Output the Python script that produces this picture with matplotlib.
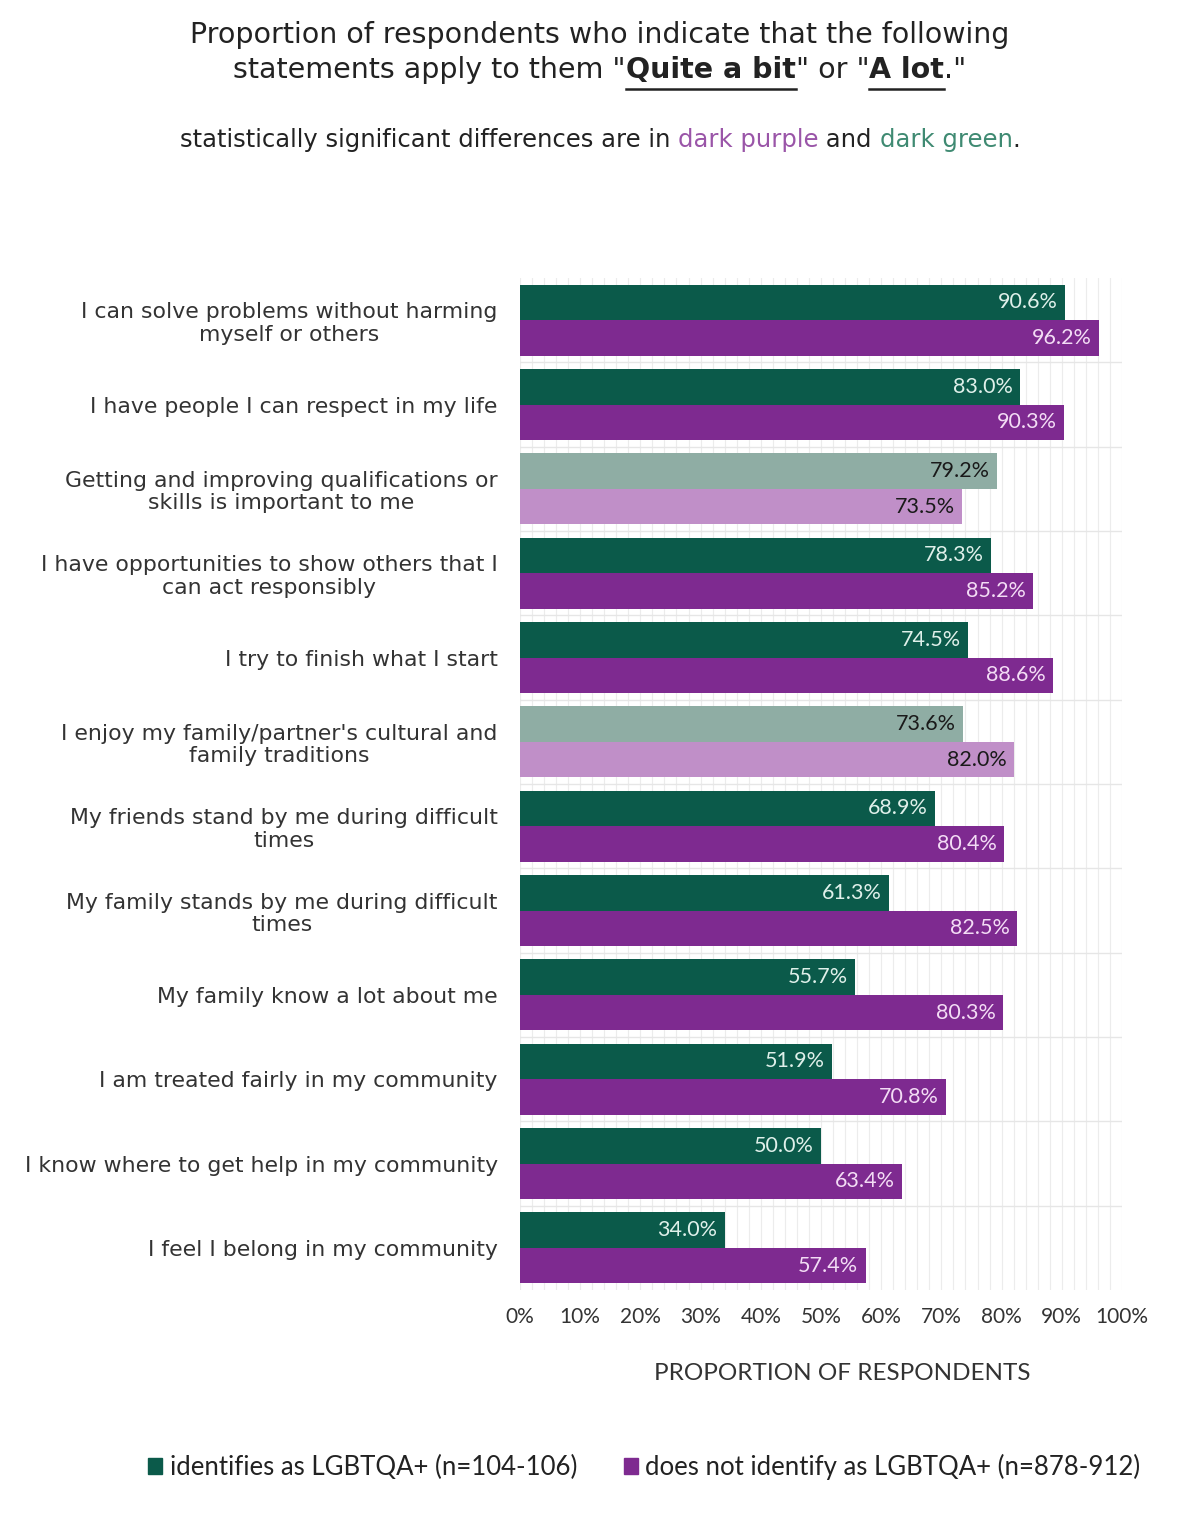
import numpy as np
import matplotlib.pyplot as plt
from matplotlib.patches import Patch

plt.rcParams['font.family'] = ['Lato', 'DejaVu Sans']

statements = [
    "I can solve problems without harming\nmyself or others",
    "I have people I can respect in my life",
    "Getting and improving qualifications or\nskills is important to me",
    "I have opportunities to show others that I\ncan act responsibly",
    "I try to finish what I start",
    "I enjoy my family/partner's cultural and\nfamily traditions",
    "My friends stand by me during difficult\ntimes",
    "My family stands by me during difficult\ntimes",
    "My family know a lot about me",
    "I am treated fairly in my community",
    "I know where to get help in my community",
    "I feel I belong in my community",
]
lgbtqa = [90.6, 83.0, 79.2, 78.3, 74.5, 73.6, 68.9, 61.3, 55.7, 51.9, 50.0, 34.0]
not_lgbtqa = [96.2, 90.3, 73.5, 85.2, 88.6, 82.0, 80.4, 82.5, 80.3, 70.8, 63.4, 57.4]
significant = [True, True, False, True, True, False, True, True, True, True, True, True]

dark_green, light_green = '#0b5a4a', '#8fada4'
dark_purple, light_purple = '#7e2a90', '#c08fc8'
wide = ['DejaVu Sans']

fig = plt.figure(figsize=(12, 15.2), dpi=100)
ax = fig.add_axes([0.4333, 0.1513, 0.5017, 0.6658])

n = len(statements)
y = np.arange(n)
h = 0.42

for i in range(n):
    sig = significant[i]
    gc = dark_green if sig else light_green
    pc = dark_purple if sig else light_purple
    tc_g = '#dff0ea' if sig else '#1a1a1a'
    tc_p = '#f3dcf5' if sig else '#1a1a1a'
    ax.barh(y[i] - h / 2, lgbtqa[i], height=h, color=gc, zorder=3)
    ax.barh(y[i] + h / 2, not_lgbtqa[i], height=h, color=pc, zorder=3)
    ax.text(lgbtqa[i] - 1.2, y[i] - h / 2, f"{lgbtqa[i]:.1f}%", ha='right', va='center',
            color=tc_g, fontsize=15.5, zorder=4)
    ax.text(not_lgbtqa[i] - 1.2, y[i] + h / 2, f"{not_lgbtqa[i]:.1f}%", ha='right', va='center',
            color=tc_p, fontsize=15.5, zorder=4)

ax.set_xlim(0, 100)
ax.set_ylim(n - 0.5, -0.5)
ax.set_xticks(np.arange(0, 101, 10))
ax.set_xticklabels([f"{v}%" for v in range(0, 101, 10)], fontsize=15, color='#333333')
ax.set_xticks(np.arange(0, 101, 2), minor=True)
ax.set_yticks(y)
ax.set_yticklabels(statements, fontsize=15.8, color='#333333', linespacing=1.15, family=wide)
for lbl in ax.get_yticklabels():
    lbl.set_multialignment('center')
ax.set_yticks(np.arange(0.5, n - 0.5, 1), minor=True)
ax.tick_params(axis='both', which='both', length=0)
ax.tick_params(axis='y', pad=16)
ax.tick_params(axis='x', pad=12)
ax.grid(axis='x', which='both', color='#ececec', linewidth=0.8, zorder=0)
ax.grid(axis='y', which='minor', color='#e6e6e6', linewidth=1.0, zorder=0)
for s in ax.spines.values():
    s.set_visible(False)
ax.set_xlabel("PROPORTION OF RESPONDENTS", fontsize=17.5, color='#333333')
ax.xaxis.set_label_coords(0.535, -0.072)

renderer = fig.canvas.get_renderer()


def centred_line(pieces, ypos, size):
    # lay out text pieces side by side, centred as one line
    items = []
    total = 0
    for txt, colour, weight, underline in pieces:
        t = fig.text(0, ypos, txt, ha='left', va='center', fontsize=size, color=colour,
                     fontweight=weight, family=wide)
        w = t.get_window_extent(renderer).width
        items.append((t, w, underline))
        total += w
    x0 = (fig.bbox.width - total) / 2
    for t, w, underline in items:
        t.set_x(x0 / fig.bbox.width)
        if underline:
            yy = ypos - 0.0125
            fig.add_artist(plt.Line2D([x0 / fig.bbox.width, (x0 + w) / fig.bbox.width], [yy, yy],
                                      color='#222222', linewidth=1.8))
        x0 += w


ink = '#222222'
centred_line([("Proportion of respondents who indicate that the following", ink, 'normal', False)],
             0.977, 20.5)
centred_line([('statements apply to them "', ink, 'normal', False), ('Quite a bit', ink, 'bold', True),
              ('" or "', ink, 'normal', False), ('A lot', ink, 'bold', True), ('."', ink, 'normal', False)],
             0.954, 20.5)
centred_line([('statistically significant differences are in ', ink, 'normal', False),
              ('dark purple', '#9a55a8', 'normal', False), (' and ', ink, 'normal', False),
              ('dark green', '#3f8a72', 'normal', False), ('.', ink, 'normal', False)],
             0.908, 17.5)

handles = [Patch(color=dark_green, label='identifies as LGBTQA+ (n=104-106)'),
           Patch(color=dark_purple, label='does not identify as LGBTQA+ (n=878-912)')]
fig.legend(handles=handles, loc='center', bbox_to_anchor=(0.537, 0.035), ncol=2, frameon=False,
           fontsize=18.5, handlelength=0.55, handleheight=0.55, handletextpad=0.3, columnspacing=1.8,
           labelcolor=ink)

fig.savefig('out.png', dpi=100, facecolor='white')
